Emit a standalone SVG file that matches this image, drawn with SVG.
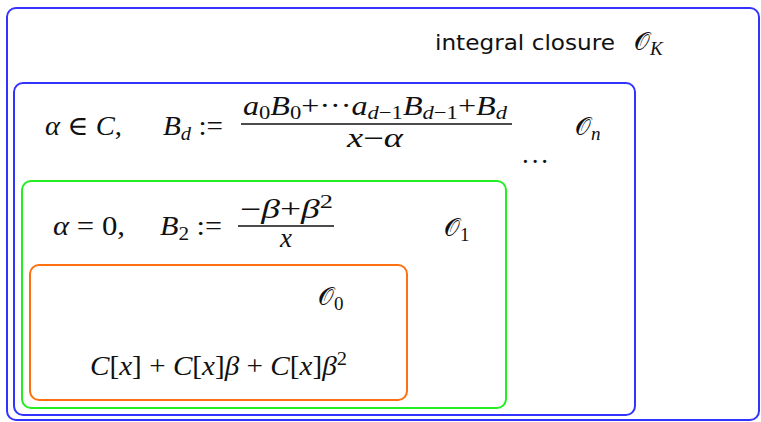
<svg xmlns="http://www.w3.org/2000/svg" width="761" height="422" viewBox="0 0 761 422">
<style>
.box{fill:none;stroke-width:2}
.m{font-family:"Liberation Serif","DejaVu Serif",serif;font-size:27px;fill:#111}
.i{font-style:italic}
.s{font-size:19px}
.cal{font-family:"DejaVu Sans","DejaVu Serif",serif;font-size:25px;fill:#111}
.sans{font-family:"DejaVu Sans","Liberation Sans",sans-serif;font-size:21px;fill:#111}
.bar{stroke:#111;stroke-width:1.4}
</style>
<rect width="761" height="422" fill="#fff"/>
<g id="outer">
<rect class="box" x="7" y="8" width="752" height="412" rx="9" stroke="#3333ff"/>
<text class="sans" x="435" y="50" textLength="180" lengthAdjust="spacingAndGlyphs">integral closure</text>
<text class="cal" x="634" y="50">𝒪<tspan class="m i s" dy="5">K</tspan></text>
</g>
<g id="On">
<rect class="box" x="14" y="83" width="621" height="332" rx="9" stroke="#3333ff"/>
<text class="m" x="45" y="135" textLength="77" lengthAdjust="spacingAndGlyphs"><tspan class="i">α</tspan> ∈ <tspan class="i">C</tspan>,</text>
<text class="m" x="163" y="135" textLength="60" lengthAdjust="spacingAndGlyphs"><tspan class="i">B</tspan><tspan class="i s" dy="5">d</tspan><tspan dy="-5"> :=</tspan></text>
<text class="m" x="243" y="115" textLength="264" lengthAdjust="spacingAndGlyphs"><tspan class="i">a</tspan><tspan class="s" dy="4">0</tspan><tspan class="i" dy="-4">B</tspan><tspan class="s" dy="4">0</tspan><tspan dy="-4">+···</tspan><tspan class="i">a</tspan><tspan class="i s" dy="4">d</tspan><tspan class="s">−1</tspan><tspan class="i" dy="-4">B</tspan><tspan class="i s" dy="4">d</tspan><tspan class="s">−1</tspan><tspan dy="-4">+</tspan><tspan class="i">B</tspan><tspan class="i s" dy="4">d</tspan></text>
<line class="bar" x1="241" y1="124" x2="512" y2="124"/>
<text class="m" x="347" y="147" textLength="56" lengthAdjust="spacingAndGlyphs"><tspan class="i">x</tspan>−<tspan class="i">α</tspan></text>
<text class="cal" x="575" y="135">𝒪<tspan class="m i s" dy="5">n</tspan></text>
<text class="m" x="522" y="163" textLength="26" lengthAdjust="spacing">. . .</text>
</g>
<g id="O1">
<rect class="box" x="22" y="181" width="484" height="227" rx="9" stroke="#22ee22"/>
<text class="m" x="53" y="235" textLength="72" lengthAdjust="spacingAndGlyphs"><tspan class="i">α</tspan> = 0,</text>
<text class="m" x="160" y="235" textLength="62" lengthAdjust="spacingAndGlyphs"><tspan class="i">B</tspan><tspan class="s" dy="5">2</tspan><tspan dy="-5"> :=</tspan></text>
<text class="m" x="240" y="218" textLength="93" lengthAdjust="spacingAndGlyphs">−<tspan class="i">β</tspan>+<tspan class="i">β</tspan><tspan class="s" dy="-10">2</tspan></text>
<line class="bar" x1="238" y1="226" x2="334" y2="226"/>
<text class="m i" x="280" y="247">x</text>
<text class="cal" x="444" y="236">𝒪<tspan class="m s" dy="5">1</tspan></text>
</g>
<g id="O0">
<rect class="box" x="30" y="265" width="377" height="135" rx="9" stroke="#ff7010"/>
<text class="cal" x="318" y="305">𝒪<tspan class="m s" dy="5">0</tspan></text>
<text class="m" x="90" y="375" textLength="257" lengthAdjust="spacingAndGlyphs"><tspan class="i">C</tspan>[<tspan class="i">x</tspan>] + <tspan class="i">C</tspan>[<tspan class="i">x</tspan>]<tspan class="i">β</tspan> + <tspan class="i">C</tspan>[<tspan class="i">x</tspan>]<tspan class="i">β</tspan><tspan class="s" dy="-10">2</tspan></text>
</g>
</svg>
